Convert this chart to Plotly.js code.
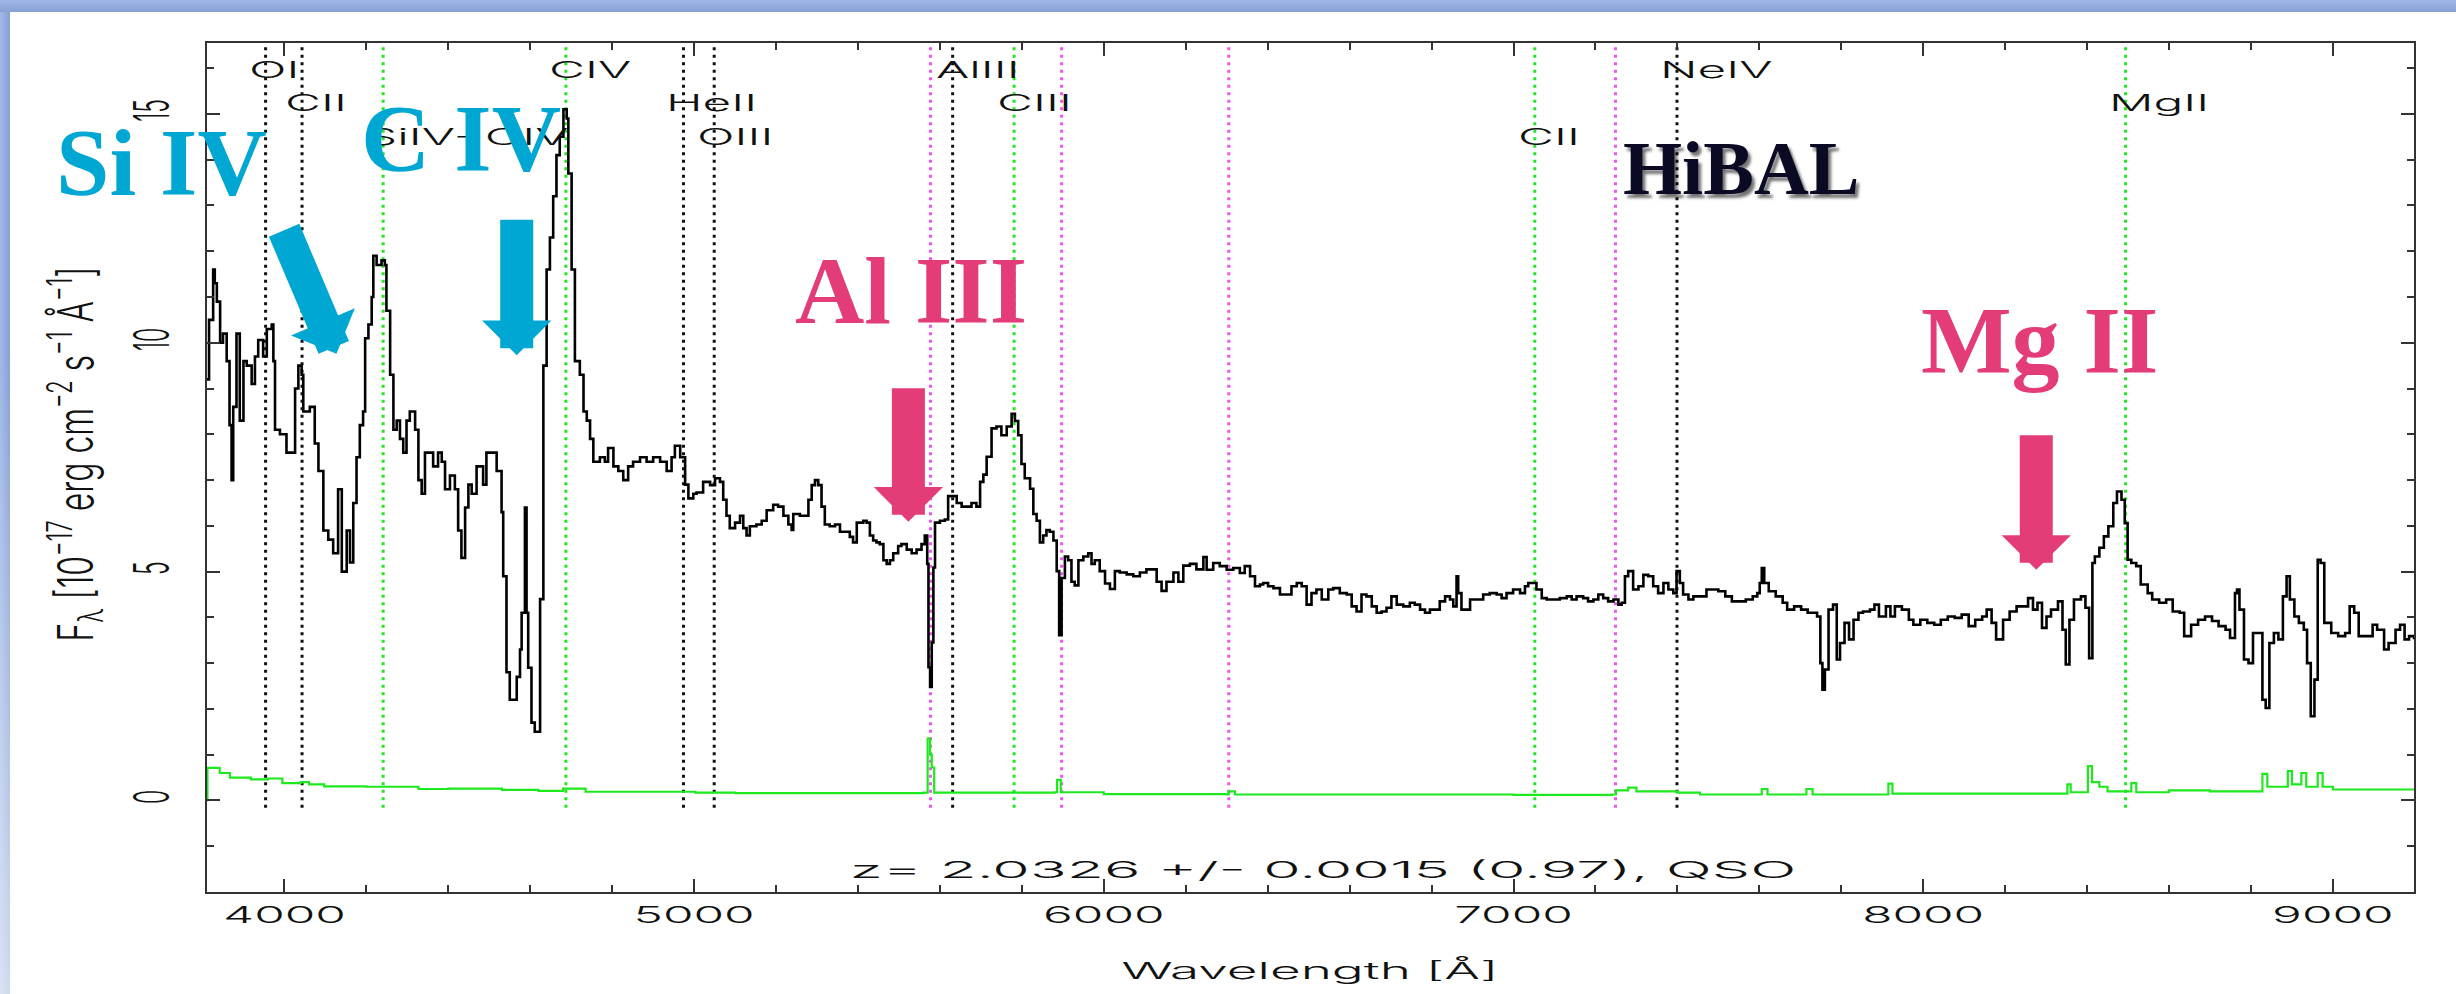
<!DOCTYPE html>
<html><head><meta charset="utf-8">
<script src="https://cdn.plot.ly/plotly-3.0.1.min.js"></script>
<style>
html,body{margin:0;padding:0;background:#fff;width:2456px;height:994px;overflow:hidden;}
#topband{position:absolute;left:0;top:0;width:2456px;height:12px;background:linear-gradient(to bottom,#9fb8e7,#87a1d5);}
#leftband{position:absolute;left:0;top:0;width:10px;height:994px;background:linear-gradient(to bottom,rgba(255,255,255,0) 0%,rgba(255,255,255,0) 35%,rgba(255,255,255,0.6) 100%),linear-gradient(to right,#a1b9e7,#859fd3);}
#chart{position:absolute;left:0;top:0;width:2456px;height:994px;}
</style></head><body>
<div id="leftband"></div><div id="topband"></div>
<div id="chart"></div>
<script>
// ---------- data ----------
const wavelength = [3810,3816,3826,3830,3835,3843,3850,3859,3866,3871,3875,3883,3891,3900,3908,3920,3928,3936,3948,3957,3969,3973,3977,3989,4005,4017,4026,4034,4042,4046,4062,4074,4083,4095,4107,4119,4131,4140,4152,4160,4168,4176,4184,4192,4197,4205,4213,4217,4225,4237,4245,4249,4258,4266,4274,4282,4290,4298,4306,4319,4327,4335,4343,4355,4363,4375,4384,4392,4404,4416,4424,4432,4441,4449,4457,4469,4485,4493,4506,4518,4530,4534,4542,4550,4559,4567,4575,4579,4587,4591,4595,4603,4611,4620,4624,4632,4640,4648,4656,4664,4672,4681,4689,4693,4701,4709,4721,4730,4738,4746,4754,4770,4782,4790,4803,4815,4827,4839,4851,4868,4884,4900,4917,4933,4945,4953,4966,4978,4986,4998,
5006,5022,5039,5051,5063,5071,5079,5087,5100,5112,5120,5128,5136,5152,5165,5177,5193,5205,5218,5230,5238,5242,5258,5270,5279,5287,5295,5303,5311,5319,5331,5344,5356,5368,5380,5388,5397,5413,5421,5429,5437,5445,5453,5462,5470,5478,5486,5498,5506,5519,5531,5543,5555,5563,5569,5572,5576,5580,5584,5588,5600,5612,5620,5633,5641,5653,5665,5677,5689,5698,5706,5714,5726,5738,5750,5763,5775,5783,5791,5799,5807,5820,5828,5836,5844,5852,5860,5868,5877,5885,5891,5897,5905,5913,5921,5929,5938,5950,5962,5970,5978,5990,6003,6015,6027,6039,6056,6072,6088,6104,6117,6129,6141,6153,6170,6182,6194,6210,6226,6243,
6251,6267,6283,6300,6316,6332,6344,6357,6369,6381,6389,6401,6414,6430,6446,6458,6471,6483,6495,6507,6519,6532,6548,6560,6576,6593,6605,6617,6629,6641,6654,6666,6678,6690,6702,6715,6731,6747,6759,6772,6784,6796,6808,6820,6833,6845,6853,6861,6865,6873,6881,6894,6910,6926,6942,6959,6971,6983,6999,7016,7028,7036,7044,7056,7069,7081,7097,7113,7130,7142,7154,7170,7182,7195,7207,7219,7231,7244,7256,7264,7272,7280,7292,7305,7317,7329,7341,7353,7366,7378,7390,7398,7406,7414,7427,7439,7455,7471,7488,
7500,7517,7533,7550,7567,7584,7595,7601,7606,7612,7623,7640,7657,7668,7685,7702,7718,7730,7741,7749,7754,7760,7769,7780,7789,7797,7808,7819,7830,7842,7853,7870,7881,7892,7909,7920,7931,7948,7965,7976,7993,8010,8027,8043,8060,8077,8094,8111,8127,8144,8155,8167,8178,8195,8211,8228,8245,8256,8268,8279,8290,8301,8312,8329,8340,8348,8357,8368,8385,8396,8405,8413,8419,8430,8441,8452,8464,8473,8484,8492,8499,8508,8520,8531,8548,8559,8576,8593,8609,8626,8637,8654,8671,8688,8705,8721,8738,8749,8761,8766,8772,8783,8794,8805,8817,8828,8836,8845,8856,8867,8878,8887,8895,8906,8917,8929,8937,8946,8955,8963,8970,8979,8996,9013,9030,9041,9052,9063,9080,9097,9108,9125,9136,9153,9164,9175,9186,9198];
const flux = [9.2,10.5,11.6,11.3,10.9,10.0,10.2,9.6,8.2,7.0,8.6,10.2,8.3,9.6,9.5,9.1,9.7,10.06,9.7,10.3,10.4,9.6,8.1,8.0,7.6,7.6,9.0,9.5,9.3,8.5,8.6,7.8,7.2,5.9,5.7,5.4,6.8,5.0,5.9,5.2,6.5,7.5,8.2,8.5,10.1,10.4,11.0,11.9,11.7,11.8,11.7,10.7,9.3,8.1,8.3,7.9,7.6,8.3,8.5,8.1,7.0,6.7,7.6,7.6,7.3,7.6,7.4,6.8,7.1,6.8,5.9,5.3,6.4,6.9,6.7,7.3,6.9,7.6,7.6,7.2,6.3,4.9,2.8,2.2,2.2,2.7,3.3,4.1,6.4,4.1,2.9,1.7,1.5,1.5,4.4,9.5,11.6,12.3,13.2,14.1,14.5,15.1,14.9,13.7,11.6,9.6,9.3,8.5,8.3,7.9,7.4,7.5,7.4,7.7,7.3,7.2,7.0,7.3,7.4,7.5,7.4,7.5,7.4,7.2,7.5,7.75,7.5,6.9,6.6,6.7,
6.73,6.96,6.89,7.04,6.96,6.57,6.22,5.95,6.07,6.22,5.95,5.79,5.99,6.03,6.11,6.34,6.46,6.42,6.22,6.03,5.91,6.26,6.22,6.22,6.57,6.89,7.0,6.89,6.42,6.03,5.99,6.03,5.87,5.87,5.76,5.64,6.07,6.11,6.07,5.79,5.68,5.64,5.6,5.25,5.17,5.25,5.4,5.56,5.6,5.48,5.4,5.48,5.6,5.79,5.17,2.91,2.48,3.45,5.09,6.07,6.11,6.14,6.65,6.65,6.5,6.42,6.42,6.5,6.42,6.96,7.12,7.51,8.13,8.17,7.98,8.17,8.45,8.29,7.98,7.35,7.04,6.81,6.26,6.11,5.64,5.79,5.91,5.87,5.68,5.01,3.61,4.86,5.33,5.25,4.78,4.7,5.25,5.33,5.4,5.17,5.25,5.01,4.74,4.62,5.01,4.98,4.94,4.9,4.98,5.05,5.05,4.78,4.58,4.78,4.98,4.78,5.13,5.17,5.05,5.32,
5.04,5.19,5.12,5.04,5.08,4.97,5.12,4.9,4.68,4.72,4.75,4.68,4.64,4.5,4.5,4.68,4.75,4.68,4.28,4.53,4.61,4.39,4.61,4.64,4.53,4.5,4.24,4.13,4.5,4.46,4.24,4.1,4.13,4.21,4.46,4.28,4.24,4.32,4.28,4.17,4.1,4.17,4.17,4.35,4.46,4.39,4.24,4.9,4.53,4.17,4.17,4.39,4.39,4.5,4.53,4.5,4.42,4.53,4.61,4.53,4.68,4.75,4.75,4.61,4.42,4.39,4.39,4.42,4.46,4.39,4.46,4.42,4.35,4.39,4.5,4.42,4.35,4.39,4.28,4.32,4.9,5.01,4.61,4.68,4.93,4.9,4.68,4.53,4.75,4.61,4.53,5.01,4.75,4.5,4.39,4.46,4.46,4.61,4.61,
4.57,4.46,4.35,4.35,4.39,4.46,4.53,4.75,5.08,4.75,4.57,4.46,4.32,4.17,4.24,4.17,4.1,4.1,4.02,3.0,2.42,2.86,4.17,4.28,3.08,3.44,3.88,3.52,3.95,4.1,4.13,4.17,4.28,4.02,4.24,4.02,4.24,4.17,3.95,3.84,3.95,3.88,3.84,3.95,4.02,3.99,4.06,3.81,3.95,4.02,4.17,3.88,3.52,3.95,4.13,4.24,4.24,4.42,4.17,4.32,3.77,4.02,4.17,4.35,3.73,2.97,3.95,4.39,4.46,4.21,3.11,5.19,5.33,5.52,5.77,5.99,6.5,6.75,6.57,6.06,5.26,5.19,5.12,4.72,4.53,4.39,4.32,4.39,4.13,4.1,3.59,3.84,3.95,4.02,3.92,3.81,3.73,3.55,4.53,4.61,4.17,3.08,3.0,3.66,3.66,2.2,2.02,3.44,3.66,3.52,4.46,4.9,4.39,4.02,3.88,3.73,3.0,1.84,2.64,5.26,5.19,3.88,3.66,3.59,3.66,4.24,4.1,3.59,3.59,3.84,3.73,3.3,3.44,3.73,3.84,3.52,3.59,3.52];
const errWave = [3810,3812,3823,3842,3867,3918,3960,3995,4040,4060,4097,4200,4327,4400,4531,4620,4680,4735,5003,5100,5300,5560,5570,5576,5580,5586,5700,5880,5886,5895,6000,6300,6305,6320,7000,7240,7250,7280,7300,7400,7455,7606,7620,7715,7730,7915,7925,8300,8352,8360,8402,8412,8430,8450,8508,8520,8600,8700,8770,8828,8840,8890,8900,8923,8935,8963,8975,9000,9198];
const errFlux = [0.0,0.71,0.71,0.6,0.5,0.46,0.48,0.38,0.4,0.35,0.31,0.3,0.25,0.26,0.23,0.21,0.26,0.19,0.17,0.16,0.16,0.17,1.35,1.0,0.72,0.17,0.17,0.18,0.45,0.18,0.14,0.13,0.2,0.13,0.12,0.13,0.22,0.28,0.2,0.17,0.13,0.25,0.13,0.25,0.13,0.37,0.15,0.15,0.35,0.18,0.75,0.4,0.3,0.2,0.38,0.18,0.22,0.2,0.2,0.58,0.3,0.64,0.35,0.6,0.3,0.6,0.3,0.24,0.24];

const lineNames = ['OI','CII','SiIV+OIV','CIV','HeII','OIII','AlIII','CIII','CII','NeIV','MgII'];
const lineWaves = [3954,4043,4241,4687,4974,5049,5631,5781,7052,7399,8494];
const lineKinds = ['weak','weak','strong','strong','weak','weak','weak','strong','strong','weak','strong'];
const skyWaves = [5577,5897,6305,7249];

const featureNames = ['Si IV','C IV','Al III','Mg II'];
const featureWaves = [4127,4567,5523,8276];
const featureFlux = [9.76,9.73,6.09,5.04];

const redshift = '2.0326', redshiftErr = '0.0015', confidence = '0.97', objClass = 'QSO';
const xTitle = 'Wavelength [Å]';
const yTitle = 'F<sub>λ</sub> [10<sup>−17</sup> erg cm<sup>−2</sup> s<sup>−1</sup> Å<sup>−1</sup>]';

// ---------- styling ----------
const STRETCH = 2.15;
const PG = {family:'Inter, "DejaVu Sans", sans-serif', size:23, color:'#111', weight:300};
const CYAN = '#00a7d3', PINK = '#e43c78';
const YMIN = -2, YMAX = 16.55, XMIN = 3811, XMAX = 9198;
const kindColor = {weak:'#111111', strong:'#22e622'};
const SKY = '#f055f0';

const traces = [
  {x: errWave, y: errFlux, type:'scatter', mode:'lines', line:{color:'#1ee81e', width:2.2, shape:'hv'}, hoverinfo:'skip'},
  {x: wavelength, y: flux, type:'scatter', mode:'lines', line:{color:'#000', width:2.6, shape:'hv'}, hoverinfo:'skip'}
];

const shapes = [];
lineWaves.forEach((w,i)=>shapes.push({type:'line', xref:'x', yref:'y', x0:w, x1:w, y0:-0.16, y1:YMAX, layer:'below',
  line:{color:kindColor[lineKinds[i]], width:3, dash:'3px,4.5px'}}));
skyWaves.forEach(w=>shapes.push({type:'line', xref:'x', yref:'y', x0:w, x1:w, y0:-0.16, y1:YMAX, layer:'below',
  line:{color:SKY, width:3, dash:'3px,4.5px'}}));

const annotations = [];
const pgLeft = [];
const rowY = [0.968, 0.929, 0.889];
lineNames.forEach((n,i)=>{
  pgLeft.push(annotations.length);
  annotations.push({text:n, xref:'x', yref:'paper', x:lineWaves[i], y:rowY[i%3], xanchor:'left', yanchor:'middle',
    xshift:-19, showarrow:false, align:'left', font:PG});
});
const zIndex = annotations.length;
annotations.push({text:`z= ${redshift} +/- ${redshiftErr} (${confidence}), ${objClass}`, xref:'paper', yref:'paper',
  x:0.5057, y:0.0259, xanchor:'center', yanchor:'middle', showarrow:false, font:PG});
const yTitleIndex = annotations.length;
annotations.push({text:yTitle, xref:'paper', yref:'paper', x:-0.0598, y:0.516, xanchor:'center', yanchor:'middle',
  textangle:-90, showarrow:false, font:PG});

// arrows pointing at the absorption features
const arrowOffsets = [[-53,-125],[0,-137],[0,-135],[0,-136]];
const featColors = [CYAN, CYAN, PINK, PINK];
featureNames.forEach((n,i)=>{
  annotations.push({text:'', xref:'x', yref:'y', x:featureWaves[i], y:featureFlux[i], ax:arrowOffsets[i][0], ay:arrowOffsets[i][1],
    showarrow:true, arrowhead:1, arrowsize:0.35, arrowwidth:33, arrowcolor:featColors[i], standoff:0});
});
// big labels
const featTextPos = [[-0.0204,0.8598],[0.1153,0.8875],[0.319,0.709],[0.8305,0.649]];
const BIG = {family:'"Liberation Serif", "Times New Roman", serif', size:96, weight:700};
featureNames.forEach((n,i)=>{
  annotations.push({text:n, xref:'paper', yref:'paper', x:featTextPos[i][0], y:featTextPos[i][1], xanchor:'center', yanchor:'middle',
    showarrow:false, font:Object.assign({}, BIG, {color:featColors[i]})});
});
annotations.push({text:'HiBAL', xref:'paper', yref:'paper', x:0.6955, y:0.8528, xanchor:'center', yanchor:'middle', showarrow:false,
  font:{family:'"Liberation Serif", "Times New Roman", serif', size:76, weight:700, color:'#0a0a24', shadow:'3px 4px 3px rgba(0,0,0,0.55)'}});

const axisCommon = {showline:true, linecolor:'#333', linewidth:2, mirror:'allticks', ticks:'inside', ticklen:13, tickwidth:2,
  tickcolor:'#333', showgrid:false, zeroline:false, automargin:false, tickfont:PG};

const layout = {
  width:2456, height:994,
  margin:{l:207, r:42, t:43, b:102, pad:0},
  paper_bgcolor:'rgba(0,0,0,0)', plot_bgcolor:'rgba(0,0,0,0)',
  showlegend:false,
  xaxis:Object.assign({}, axisCommon, {range:[XMIN,XMAX], dtick:1000, tick0:0, ticklabelstandoff:10,
    minor:{ticks:'inside', dtick:200, ticklen:7, tickwidth:2, tickcolor:'#333'},
    title:{text:xTitle, font:PG, standoff:30}}),
  yaxis:Object.assign({}, axisCommon, {range:[YMIN,YMAX], dtick:5, tick0:0, tickangle:-90, ticklabelstandoff:30,
    minor:{ticks:'inside', dtick:1, ticklen:7, tickwidth:2, tickcolor:'#333'}}),
  shapes, annotations
};

// stretch the PGPLOT-style texts on screen (the original plot image is stretched ~2x horizontally) and place them
function fitText(el, o){
  const r = el.getBoundingClientRect();
  if(!r.width && !r.height) return;
  const ox = o.origin === 'left' ? r.left : (r.left + r.right)/2;
  const oy = (r.top + r.bottom)/2;
  const tx = o.cx !== undefined ? o.cx : ox;
  const ty = o.cy !== undefined ? o.cy : oy;
  const P0 = el.parentNode.getScreenCTM();
  const P = new DOMMatrix([P0.a,P0.b,P0.c,P0.d,P0.e,P0.f]);
  const S = new DOMMatrix().translate(tx,ty).scale(o.sx, o.sy || 1).translate(-ox,-oy);
  const M = P.inverse().multiply(S).multiply(P);
  const orig = el.getAttribute('transform') || '';
  el.setAttribute('transform', `matrix(${M.a} ${M.b} ${M.c} ${M.d} ${M.e} ${M.f}) ${orig}`);
}
const rw = el => el.getBoundingClientRect().width || 1;
const rh = el => el.getBoundingClientRect().height || 1;
const annText = (gd,i) => gd.querySelector(`.annotation[data-index="${i}"] text.annotation-text`);

Plotly.newPlot('chart', traces, layout, {displayModeBar:false, staticPlot:true})
.then(()=>document.fonts.ready)
.then(()=>{
  const gd = document.getElementById('chart');
  const xt = [...gd.querySelectorAll('.xtick text')];
  if(xt.length){
    const ref = xt.find(e=>e.textContent.trim()==='4000') || xt[0];
    const sx = 123 / rw(ref);
    xt.forEach(e=>fitText(e,{sx, cy:915}));
  }
  gd.querySelectorAll('.ytick text').forEach(e=>fitText(e,{sx:STRETCH, cx:151.5}));
  const xtl = gd.querySelector('text.xtitle');
  if(xtl) fitText(xtl,{sx:377 / rw(xtl), cx:1310, cy:971});
  const ytl = annText(gd, yTitleIndex);
  if(ytl) fitText(ytl,{sx:STRETCH, sy:375 / rh(ytl), cx:75, cy:454});
  pgLeft.forEach(i=>{ const t = annText(gd,i); if(t) fitText(t,{sx:STRETCH, origin:'left'}); });
  const zt = annText(gd, zIndex);
  if(zt) fitText(zt,{sx:947 / rw(zt), cx:1323, cy:870});
});
</script></body></html>
